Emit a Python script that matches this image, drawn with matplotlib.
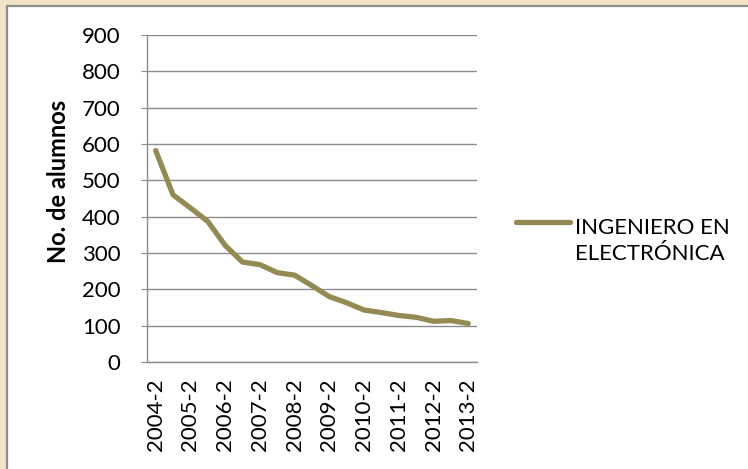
import matplotlib
matplotlib.use("Agg")
import numpy as np
import matplotlib.pyplot as plt
from matplotlib.patches import Rectangle
from matplotlib.legend_handler import HandlerLine2D

# Data
semestres = [
    "2004-2", "2005-1", "2005-2", "2006-1", "2006-2", "2007-1", "2007-2",
    "2008-1", "2008-2", "2009-1", "2009-2", "2010-1", "2010-2", "2011-1",
    "2011-2", "2012-1", "2012-2", "2013-1", "2013-2",
]
alumnos = [582, 460, 424, 387, 321, 275, 268, 246, 239, 210,
           180, 163, 143, 136, 128, 123, 112, 114, 106]
serie = "INGENIERO EN\nELECTRÓNICA"
y_ticks = [0, 100, 200, 300, 400, 500, 600, 700, 800, 900]


# legend line sits next to the first text line, like in Excel
class FirstLineHandler(HandlerLine2D):
    def create_artists(self, legend, orig_handle, xdescent, ydescent,
                       width, height, fontsize, trans):
        arts = super().create_artists(legend, orig_handle, xdescent, ydescent,
                                      width, height, fontsize, trans)
        for a in arts:
            a.set_ydata(np.asarray(a.get_ydata()) + 0.85 * fontsize)
        return arts


plt.rcParams["font.family"] = ["Lato", "DejaVu Sans"]

fig = plt.figure(figsize=(7.48, 4.69), dpi=100)
fig.patch.set_facecolor("#f2e4c6")

# white chart area with grey border
W, H = 748, 469
fig.patches.append(Rectangle((7 / W, -0.1), 1, 1.1 - 6 / H, transform=fig.transFigure,
                             facecolor="white", edgecolor="#8c8c8c", linewidth=1.6,
                             zorder=-5))

ax = fig.add_axes([147 / W, 1 - 362 / H, 330 / W, 327 / H])
ax.set_facecolor("white")
ax.set_zorder(2)

x = list(range(len(semestres)))
ax.plot(x, alumnos, color="#948a54", linewidth=3.8, solid_capstyle="round",
        solid_joinstyle="round", label=serie, zorder=3)

ax.set_xlim(-0.5, len(semestres) - 0.5)
ax.set_ylim(0, 900)
ax.set_yticks(y_ticks)
ax.yaxis.grid(True, color="#8c8c8c", linewidth=1.0)
ax.set_axisbelow(True)

ax.set_xticks(x[::2])
ax.set_xticklabels(semestres[::2], rotation=90, fontsize=16)
ax.tick_params(axis="x", length=0, pad=12)
ax.tick_params(axis="y", length=4, color="#8c8c8c", labelsize=16, pad=15)

for s in ["top", "right"]:
    ax.spines[s].set_visible(False)
for s in ["left", "bottom"]:
    ax.spines[s].set_color("#8c8c8c")
    ax.spines[s].set_linewidth(1.0)

fig.text(58 / W, 1 - 181 / H, "No. de alumnos", rotation=90, fontsize=17,
         fontweight="bold", ha="center", va="center")

leg = ax.legend(loc="center left", frameon=False, fontsize=16, handlelength=2.45,
                handletextpad=0.2, borderaxespad=0, borderpad=0,
                handler_map={matplotlib.lines.Line2D: FirstLineHandler()})
leg.get_texts()[0].set_linespacing(1.38)
leg.set_bbox_to_anchor((516 / W, 1 - 241 / H), transform=fig.transFigure)

fig.savefig("out.png", dpi=100, facecolor=fig.get_facecolor())
